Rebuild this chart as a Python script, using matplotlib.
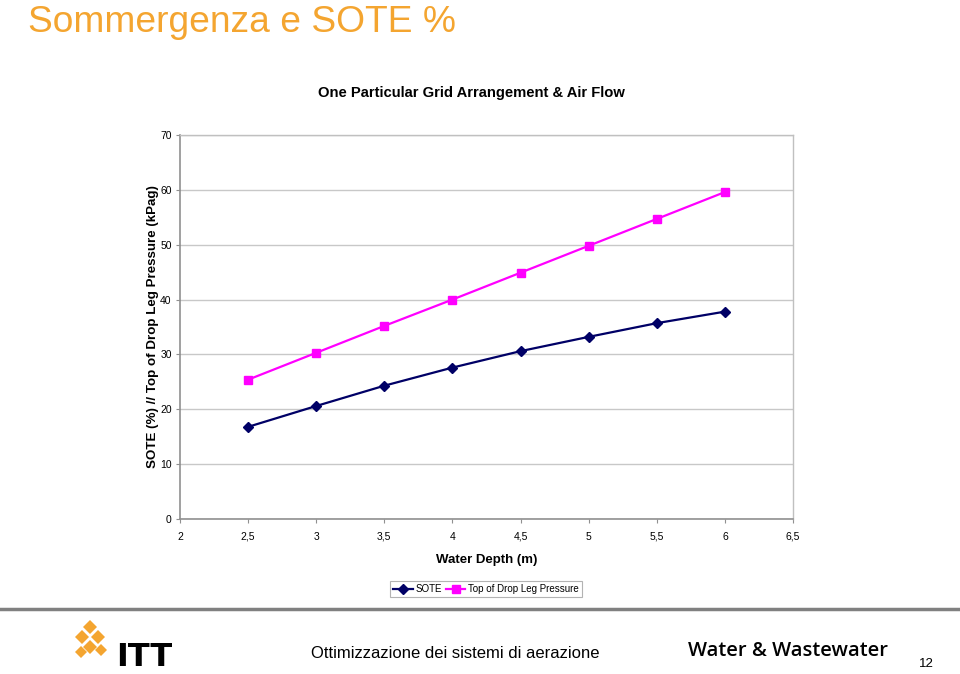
import matplotlib
matplotlib.use("Agg")
import matplotlib.pyplot as plt
from matplotlib.patches import Polygon
from matplotlib.lines import Line2D
from matplotlib.ticker import FuncFormatter

# ---- data ----
water_depth = [2.5, 3.0, 3.5, 4.0, 4.5, 5.0, 5.5, 6.0]
sote = [16.8, 20.6, 24.3, 27.6, 30.6, 33.2, 35.7, 37.8]
drop_leg_pressure = [25.4, 30.3, 35.2, 40.0, 44.9, 49.8, 54.7, 59.6]
series_names = ["SOTE", "Top of Drop Leg Pressure"]
x_ticks = [2, 2.5, 3, 3.5, 4, 4.5, 5, 5.5, 6, 6.5]
y_ticks = [0, 10, 20, 30, 40, 50, 60, 70]

plt.rcParams['font.family'] = ['Liberation Sans', 'DejaVu Sans']

fig = plt.figure(figsize=(9.6, 6.74), dpi=100)
W, H = 960, 674

def fx(px):
    return px / W

def fy(py):
    return 1 - py / H

# page title
fig.text(fx(28), fy(32), "Sommergenza e SOTE %", color="#F4A530",
         fontsize=26.7, va="baseline", ha="left")

ax = fig.add_axes([fx(180), fy(519), fx(793) - fx(180), fy(135) - fy(519)])
ax.set_xlim(2, 6.5)
ax.set_ylim(0, 70)
ax.set_xticks(x_ticks)
ax.set_yticks(y_ticks)
fmt = FuncFormatter(lambda v, p: (f"{v:g}").replace(".", ","))
ax.xaxis.set_major_formatter(fmt)
ax.yaxis.set_major_formatter(fmt)
ax.grid(axis="y", color="#c8c8c8", linewidth=1.0)
ax.set_axisbelow(True)
for s in ["top", "right"]:
    ax.spines[s].set_color("#c0c0c0")
    ax.spines[s].set_linewidth(1.0)
for s in ["left", "bottom"]:
    ax.spines[s].set_color("#909090")
    ax.spines[s].set_linewidth(1.2)
ax.tick_params(axis="both", length=3, color="#909090", labelsize=7.5)
ax.tick_params(axis="x", pad=12)
ax.tick_params(axis="y", pad=3)
for t in ax.xaxis.get_major_ticks():
    t.label1.set_verticalalignment("baseline")

ax.plot(water_depth, sote, color="#000066", marker="D", markersize=5.5,
        linewidth=1.6, label=series_names[0])
ax.plot(water_depth, drop_leg_pressure, color="#FF00FF", marker="s",
        markersize=6, linewidth=1.6, label=series_names[1])

ax.set_xlabel("Water Depth (m)", fontsize=9.5, fontweight="bold",
              labelpad=9)
ax.set_ylabel("SOTE (%) // Top of Drop Leg Pressure (kPag)", fontsize=9.6,
              fontweight="bold", labelpad=0.5)
fig.text(fx(471), fy(93), "One Particular Grid Arrangement & Air Flow",
         fontsize=10.6, fontweight="bold", ha="center", va="center")

leg = fig.legend(loc="center", bbox_to_anchor=(fx(486), fy(589)), ncol=2,
                 frameon=True, fancybox=False, edgecolor="#a0a0a0",
                 handlelength=2.0, handletextpad=0.3, columnspacing=0.4,
                 borderpad=0.35, markerscale=0.85, prop={"size": 7})
leg.get_frame().set_linewidth(0.8)

# footer separator
fig.add_artist(Line2D([0, 1], [fy(609), fy(609)], color="#808080",
                      linewidth=2.5, transform=fig.transFigure))

# ITT logo (decorative)
def diamond(cx, cy, r, color):
    pts = [(fx(cx), fy(cy - r)), (fx(cx + r), fy(cy)),
           (fx(cx), fy(cy + r)), (fx(cx - r), fy(cy))]
    fig.add_artist(Polygon(pts, closed=True, facecolor=color,
                           edgecolor="none", transform=fig.transFigure))

diamond(90, 627, 7, "#F4A530")
diamond(82, 637, 7, "#F4A530")
diamond(98, 637, 7, "#F4A530")
diamond(90, 647, 7, "#F4A530")
diamond(81, 652, 6, "#F4A530")
diamond(101, 650, 6, "#F4A530")
fig.text(fx(116), fy(658), "ITT", fontsize=23, fontweight="bold",
         ha="left", va="center", color="black",
         family=['DejaVu Sans'])

fig.text(fx(455), fy(653), "Ottimizzazione dei sistemi di aerazione",
         fontsize=12, ha="center", va="center")
fig.text(fx(788), fy(651), "Water & Wastewater", fontsize=14.5,
         fontweight="semibold", ha="center", va="center",
         family=['Open Sans', 'DejaVu Sans'])
fig.text(fx(926), fy(664), "12", fontsize=9.5, ha="center", va="center")

fig.savefig("out.png", dpi=100)
